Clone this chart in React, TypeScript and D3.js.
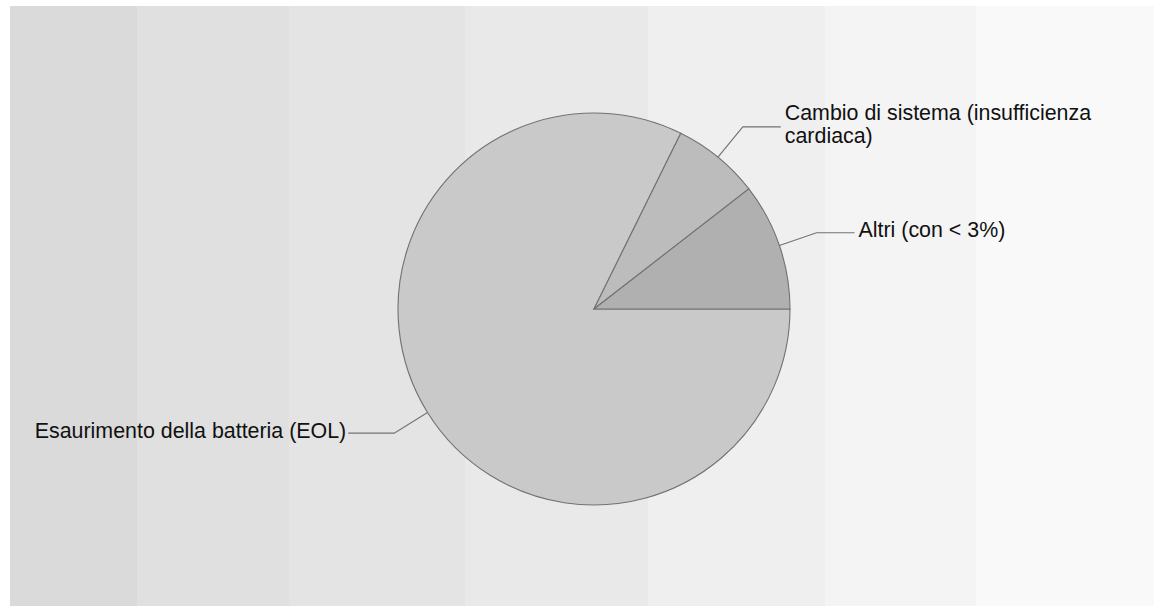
import React from "react";
import * as d3 from "d3";

const categories = [
  "Esaurimento della batteria (EOL)",
  "Cambio di sistema (insufficienza cardiaca)",
  "Altri (con < 3%)",
];
const values = [82.3, 7.2, 10.5];
const labelLines = [
  ["Esaurimento della batteria (EOL)"],
  ["Cambio di sistema (insufficienza", "cardiaca)"],
  ["Altri (con < 3%)"],
];
const sliceColors = ["#c9c9c9", "#bcbcbc", "#b0b0b0"];

const bandEdges = [10, 137, 289, 465, 648, 825, 976, 1154];
const bandColors = ["#dadada", "#e0e0e0", "#e4e4e4", "#e9e9e9", "#efefef", "#f4f4f4", "#f9f9f9"];

const W = 1154;
const H = 606;
const CX = 594;
const CY = 309;
const R = 196;
const FONT = 21.4;
const LINE_H = 23.5;

export default function App() {
  const pie = d3
    .pie<number>()
    .sort(null)
    .startAngle(Math.PI / 2)
    .endAngle(Math.PI / 2 + 2 * Math.PI);
  const arcs = pie(values);
  const arcGen = d3.arc<d3.PieArcDatum<number>>().innerRadius(0).outerRadius(R);

  const bands = bandColors.map((c, i) => ({
    x0: bandEdges[i],
    x1: bandEdges[i + 1],
    c,
  }));

  return (
    <svg
      width={W}
      height={H}
      style={{ position: "absolute", left: 0, top: 0, display: "block" }}
    >
      <rect x={0} y={0} width={W} height={H} fill="#ffffff" />
      {bands.map((b, i) => (
        <rect key={i} x={b.x0} y={6} width={b.x1 - b.x0} height={H - 6} fill={b.c} />
      ))}
      <g transform={`translate(${CX},${CY})`}>
        {arcs.map((a, i) => (
          <path
            key={i}
            d={arcGen(a) || ""}
            fill={sliceColors[i]}
            stroke="#727272"
            strokeWidth={1.1}
          />
        ))}
        {arcs.map((a, i) => {
          const mid = (a.startAngle + a.endAngle) / 2;
          const sx = Math.sin(mid);
          const sy = -Math.cos(mid);
          const p0 = [sx * R, sy * R];
          const p1 = [sx * R * 1.2, sy * R * 1.2];
          const right = sx >= 0;
          const hlen = right ? 38 : 46;
          const p2 = [p1[0] + (right ? hlen : -hlen), p1[1]];
          const tx = p2[0] + (right ? 4 : -2);
          const lines = labelLines[i];
          const firstBase = p1[1] + 4.5 - ((lines.length - 1) * LINE_H) / 2;
          return (
            <g key={`l${i}`}>
              <polyline
                points={`${p0[0]},${p0[1]} ${p1[0]},${p1[1]} ${p2[0]},${p2[1]}`}
                fill="none"
                stroke="#727272"
                strokeWidth={1.1}
              />
              <text
                x={tx}
                y={firstBase}
                textAnchor={right ? "start" : "end"}
                fontFamily="'Liberation Sans', Arial, sans-serif"
                fontSize={FONT}
                fill="#111111"
              >
                {lines.map((ln, j) => (
                  <tspan key={j} x={tx} y={firstBase + j * LINE_H}>
                    {ln}
                  </tspan>
                ))}
              </text>
            </g>
          );
        })}
      </g>
    </svg>
  );
}
